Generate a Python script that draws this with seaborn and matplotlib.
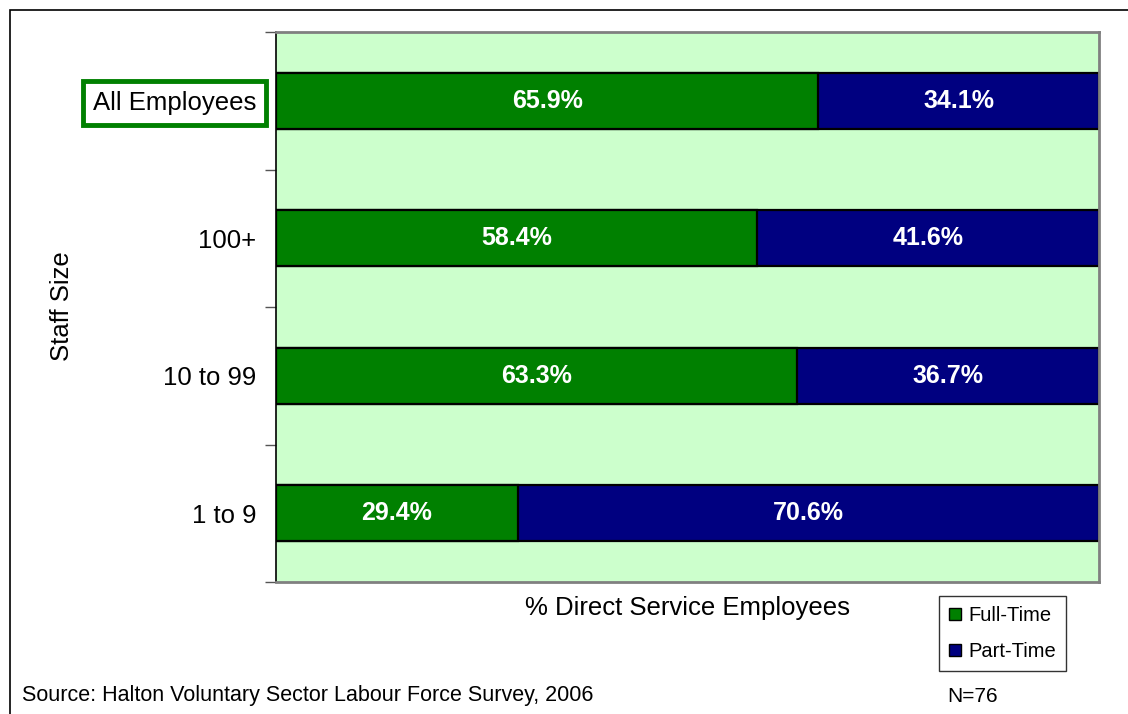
import matplotlib
matplotlib.use("Agg")
import matplotlib.pyplot as plt
from matplotlib.patches import Rectangle, Patch
import seaborn as sns
import pandas as pd

# Staff-size groups and the share of full-time vs part-time direct service employees
categories = ["All Employees", "100+", "10 to 99", "1 to 9"]
full_time = [65.9, 58.4, 63.3, 29.4]
part_time = [34.1, 41.6, 36.7, 70.6]

GREEN = "#008000"
NAVY = "#000080"
PLOT_BG = "#CCFFCC"

sns.set_theme(style="white")
plt.rcParams["font.family"] = ["Liberation Sans", "DejaVu Sans"]
plt.rcParams["text.color"] = "black"
plt.rcParams["axes.labelcolor"] = "black"
plt.rcParams["ytick.labelcolor"] = "black"

df = pd.DataFrame({"size": categories, "full": full_time, "part": part_time})
df["total"] = df["full"] + df["part"]

fig = plt.figure(figsize=(11.28, 7.14), dpi=100)
fig.patch.set_facecolor("white")

# Outer chart frame (extends past right/bottom edge)
fig.add_artist(Rectangle((10 / 1128, -0.05), 1.2, 1 - 10 / 714 + 0.05,
                         transform=fig.transFigure, fill=False,
                         edgecolor="black", linewidth=1.2))

ax = fig.add_axes([276 / 1128, 1 - 582 / 714, 823 / 1128, 550 / 714])
ax.set_facecolor(PLOT_BG)

# Stacked bars: part-time spans the full width, full-time drawn over it
sns.barplot(data=df, y="size", x="total", order=categories, orient="h",
            color=NAVY, saturation=1, width=0.41, edgecolor="black",
            linewidth=1.6, ax=ax)
sns.barplot(data=df, y="size", x="full", order=categories, orient="h",
            color=GREEN, saturation=1, width=0.41, edgecolor="black",
            linewidth=1.6, ax=ax)

# Value labels centered in each segment
for i, (f, p) in enumerate(zip(full_time, part_time)):
    ax.text(f / 2, i, f"{f:.1f}%", ha="center", va="center",
            color="white", fontsize=18, fontweight="bold")
    ax.text(f + p / 2, i, f"{p:.1f}%", ha="center", va="center",
            color="white", fontsize=18, fontweight="bold")

ax.set_xlim(0, 100)
ax.set_ylim(3.5, -0.5)
ax.set_xticks([])
ax.set_yticks(range(len(categories)))
ax.set_yticklabels(categories, fontsize=18.5, color="black")
ax.set_yticks([-0.5, 0.5, 1.5, 2.5, 3.5], minor=True)
ax.tick_params(axis="y", which="major", length=0, pad=14)
ax.tick_params(axis="y", which="minor", length=8, width=1, color="#555555",
               direction="out", left=True)

for side in ["top", "right", "bottom"]:
    ax.spines[side].set_color("#808080")
    ax.spines[side].set_linewidth(2)
ax.spines["left"].set_color("black")
ax.spines["left"].set_linewidth(1.2)

ax.set_xlabel("% Direct Service Employees", fontsize=18.5, labelpad=10, color="black")
ax.set_ylabel("Staff Size", fontsize=18.5, color="black")
ax.yaxis.set_label_coords((74 - 276) / 823, (582 - 306) / 550)

# Highlight box around the overall row label
lbl = ax.get_yticklabels()[0]
lbl.set_bbox(dict(facecolor="white", edgecolor=GREEN, linewidth=3.5,
                  boxstyle="square,pad=0.38"))

# Legend
handles = [Patch(facecolor=GREEN, edgecolor="black", label="Full-Time"),
           Patch(facecolor=NAVY, edgecolor="black", label="Part-Time")]
leg = fig.legend(handles=handles, loc="upper left",
                 bbox_to_anchor=(939 / 1128, 1 - 596 / 714), fontsize=14.5,
                 frameon=True, fancybox=False, edgecolor="black",
                 handlelength=0.6, handleheight=0.6, handletextpad=0.35,
                 labelspacing=0.85, borderpad=0.5, borderaxespad=0)
leg.get_frame().set_linewidth(1)

fig.text(22 / 1128, 1 - 696 / 714, "Source: Halton Voluntary Sector Labour Force Survey, 2006",
         fontsize=15.5, va="center", ha="left")
fig.text(947 / 1128, 1 - 696 / 714, "N=76", fontsize=15, va="center", ha="left")

fig.savefig("out.png", dpi=100)
